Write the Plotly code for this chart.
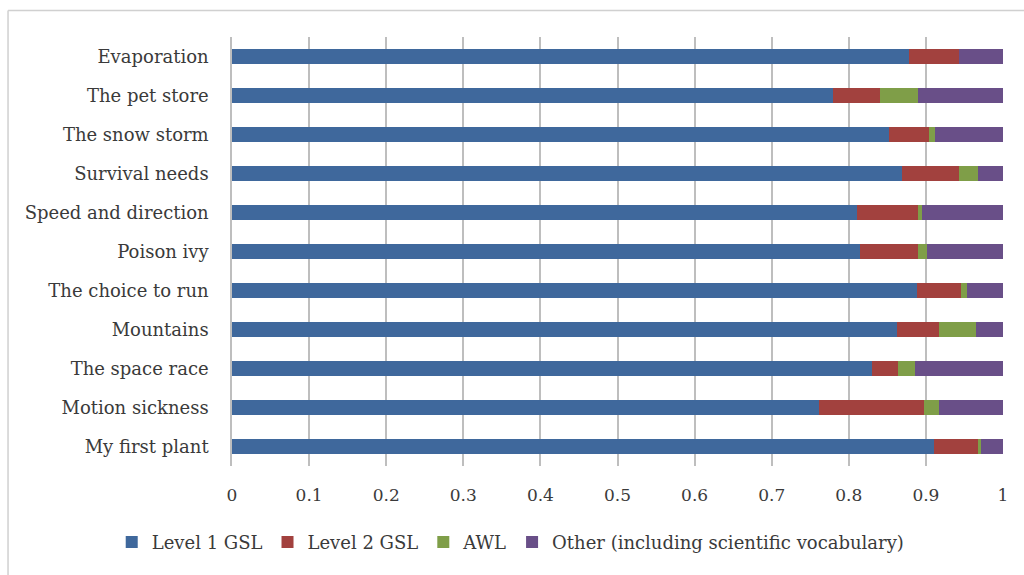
import plotly.graph_objects as go

# Reading texts (top to bottom) and the share of words in each vocabulary band
texts = ["Evaporation", "The pet store", "The snow storm", "Survival needs",
         "Speed and direction", "Poison ivy", "The choice to run", "Mountains",
         "The space race", "Motion sickness", "My first plant"]

level1_gsl = [0.878, 0.780, 0.852, 0.869, 0.811, 0.814, 0.888, 0.862, 0.830, 0.761, 0.910]
level2_gsl = [0.065, 0.060, 0.052, 0.074, 0.079, 0.076, 0.058, 0.055, 0.034, 0.137, 0.057]
awl        = [0.000, 0.050, 0.008, 0.024, 0.005, 0.012, 0.007, 0.048, 0.022, 0.019, 0.005]
other      = [0.057, 0.110, 0.088, 0.033, 0.105, 0.098, 0.047, 0.035, 0.114, 0.083, 0.028]

series_names = ["Level 1 GSL", "Level 2 GSL", "AWL",
                "Other (including scientific vocabulary)"]
series_values = [level1_gsl, level2_gsl, awl, other]
series_colors = ["#3F689C", "#A2413E", "#7F9E48", "#694F88"]

x_ticks = [0, 0.1, 0.2, 0.3, 0.4, 0.5, 0.6, 0.7, 0.8, 0.9, 1]
x_tick_text = ["0", "0.1", "0.2", "0.3", "0.4", "0.5", "0.6", "0.7", "0.8", "0.9", "1"]

FONT = "DejaVu Serif"
TEXT_COLOR = "#3A3A3A"

fig = go.Figure()
for name, vals, col in zip(series_names, series_values, series_colors):
    fig.add_trace(go.Bar(
        y=texts, x=vals, name=name, orientation="h",
        marker=dict(color=col, line=dict(width=0)),
        width=0.38,
    ))

fig.update_layout(
    barmode="stack",
    width=1024, height=575,
    margin=dict(l=232, r=21, t=36.5, b=108.5, pad=0),
    paper_bgcolor="white", plot_bgcolor="white",
    font=dict(family=FONT, size=18, color=TEXT_COLOR),
    showlegend=True,
    legend=dict(
        orientation="h", x=-0.156, xanchor="left", y=-0.178, yanchor="middle",
        font=dict(family=FONT, size=18, color=TEXT_COLOR),
        itemwidth=30, traceorder="normal", bgcolor="rgba(0,0,0,0)",
    ),
    xaxis=dict(
        range=[0, 1], tickvals=x_ticks, ticktext=x_tick_text,
        showgrid=True, gridcolor="#BEBEBE", gridwidth=1.5,
        zeroline=False, showline=False, ticks="",
        ticklabelstandoff=17,
        tickfont=dict(family=FONT, size=17, color=TEXT_COLOR),
        fixedrange=True,
    ),
    yaxis=dict(
        categoryorder="array", categoryarray=texts, autorange="reversed",
        showgrid=False, zeroline=False, showline=True, linecolor="#BEBEBE",
        linewidth=1.5, ticks="", ticklabelstandoff=18,
        tickfont=dict(family=FONT, size=18, color=TEXT_COLOR),
        fixedrange=True,
    ),
    shapes=[
        # chart frame: top and left edges
        dict(type="line", xref="paper", yref="paper",
             x0=-0.2905, x1=1.1, y0=1.0616, y1=1.0616,
             line=dict(color="#D0D0D0", width=1.5)),
        dict(type="line", xref="paper", yref="paper",
             x0=-0.2905, x1=-0.2905, y0=1.0616, y1=-0.3,
             line=dict(color="#D0D0D0", width=1.5)),
    ],
)

fig.write_html("out.html")
